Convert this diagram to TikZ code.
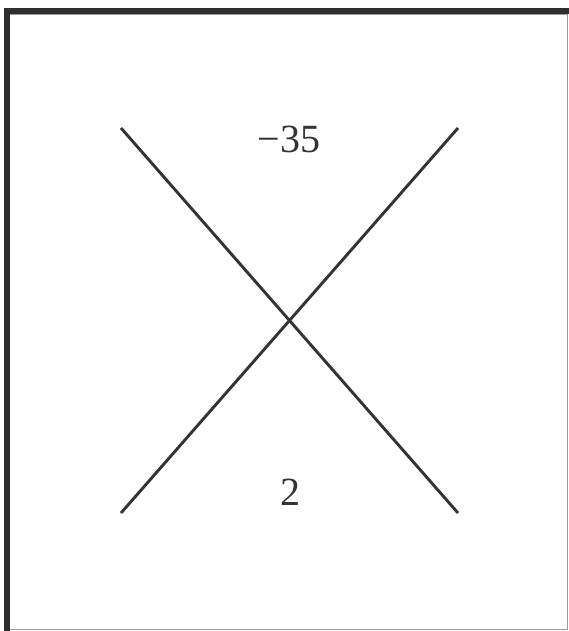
\documentclass[tikz,border=0pt]{standalone}
\usepackage{fontspec}
\setmainfont{Liberation Serif}
\definecolor{ink}{HTML}{333333}
\definecolor{frame}{HTML}{2E2E2E}
\definecolor{edge}{HTML}{9A9A9A}
\tikzset{
  crossline/.style={draw=ink, line width=2.9pt},
  numlabel/.style={text=ink, font=\fontsize{40}{44}\selectfont, inner sep=0pt}
}
\begin{document}
\begin{tikzpicture}[x=1pt,y=-1pt]
\useasboundingbox[fill=white] (0,0) rectangle (569,631);
% frame
\fill[frame] (4,8) rectangle (569,14.5);
\fill[frame] (4,8) rectangle (9.5,631);
\draw[edge, line width=1pt] (9.5,15) -- (567,15) -- (567,629.5) -- (9.5,629.5);
% cross
\coordinate (tl) at (121,128);
\coordinate (br) at (458,513);
\coordinate (tr) at (458,128);
\coordinate (bl) at (121,513);
\draw[crossline] (tl) -- (br);
\draw[crossline] (tr) -- (bl);
% labels
\node[numlabel] (top) at (289,139) {−35};
\node[numlabel] (bot) at (290,492) {2};
\end{tikzpicture}
\end{document}
